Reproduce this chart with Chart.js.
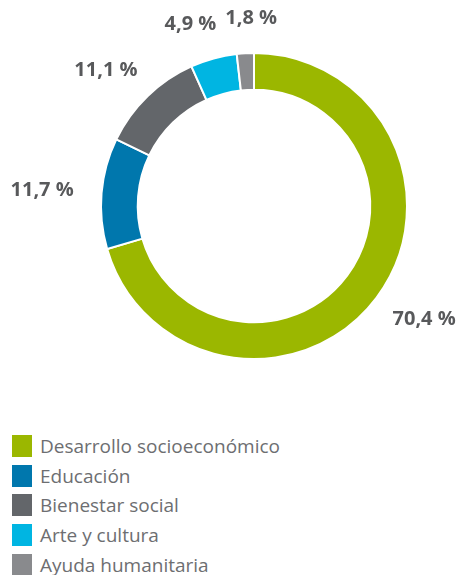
<!DOCTYPE html>
<html>
<head>
<meta charset="utf-8">
<script src="https://cdn.jsdelivr.net/npm/chart.js@4"></script>
<style>
	body { margin: 0; background: #fff; font-family: "Open Sans", sans-serif; }
	#wrap { position: relative; width: 466px; height: 400px; }
	#legend { position: absolute; left: 12px; top: 431px; margin: 0; padding: 0; list-style: none; }
	#legend li { display: flex; align-items: center; height: 29.7px; color: #6d6e71; font-size: 19px; }
	#legend span.box { display: inline-block; width: 20px; height: 22px; margin-right: 8px; }
</style>
</head>
<body>
<div id="wrap"><canvas id="donut"></canvas></div>
<ul id="legend"></ul>
<script>
const categories = ["Desarrollo socioeconómico", "Educación", "Bienestar social", "Arte y cultura", "Ayuda humanitaria"];
const shares = [70.4, 11.7, 11.1, 4.9, 1.8];
const colors = ["#9bb700", "#0077ad", "#63666a", "#00b5e2", "#898a8d"];

// percent labels round the ring, pushed apart when they collide
const outsideLabels = {
	id: "outsideLabels",
	afterDraw(chart) {
		const ctx = chart.ctx;
		const arcs = chart.getDatasetMeta(0).data;
		ctx.save();
		ctx.font = "bold 20px 'Open Sans'";
		ctx.fillStyle = "#58595b";
		ctx.textAlign = "center";
		ctx.textBaseline = "middle";
		const h = 15;
		const boxes = arcs.map((arc, i) => {
			const { x, y, startAngle, endAngle, outerRadius } = arc.getProps(["x", "y", "startAngle", "endAngle", "outerRadius"], true);
			const mid = (startAngle + endAngle) / 2;
			const dx = Math.cos(mid), dy = Math.sin(mid);
			const text = shares[i].toFixed(1).replace(".", ",") + " %";
			const w = ctx.measureText(text).width;
			const r = outerRadius + 28;
			return { text, w, cx: x + dx * r + dx * w / 2, cy: y + dy * r + dy * h / 2 };
		});
		for (let i = 1; i < boxes.length; i++) {
			const a = boxes[i - 1], b = boxes[i];
			if (Math.abs(a.cy - b.cy) < h + 4) {
				const need = (a.w + b.w) / 2 + 9;
				const dist = Math.abs(b.cx - a.cx);
				if (dist < need) {
					const s = (need - dist) / 2 * (b.cx >= a.cx ? 1 : -1);
					a.cx -= s;
					b.cx += s;
				}
			}
		}
		boxes.forEach((b) => ctx.fillText(b.text, b.cx, b.cy));
		ctx.restore();
	},
};

new Chart(document.getElementById("donut"), {
	type: "doughnut",
	data: {
		labels: categories,
		datasets: [
			{
				data: shares,
				backgroundColor: colors,
				borderColor: "#ffffff",
				borderWidth: 2,
				hoverOffset: 0,
			},
		],
	},
	options: {
		responsive: true,
		maintainAspectRatio: false,
		animation: false,
		cutout: "76%",
		layout: { padding: { left: 100, right: 58, top: 52, bottom: 40 } },
		plugins: {
			legend: { display: false },
			tooltip: { enabled: false },
		},
	},
	plugins: [outsideLabels],
});

const legend = document.getElementById("legend");
categories.forEach((name, i) => {
	const li = document.createElement("li");
	li.innerHTML = '<span class="box" style="background:' + colors[i] + '"></span>' + name;
	legend.appendChild(li);
});
</script>
</body>
</html>
